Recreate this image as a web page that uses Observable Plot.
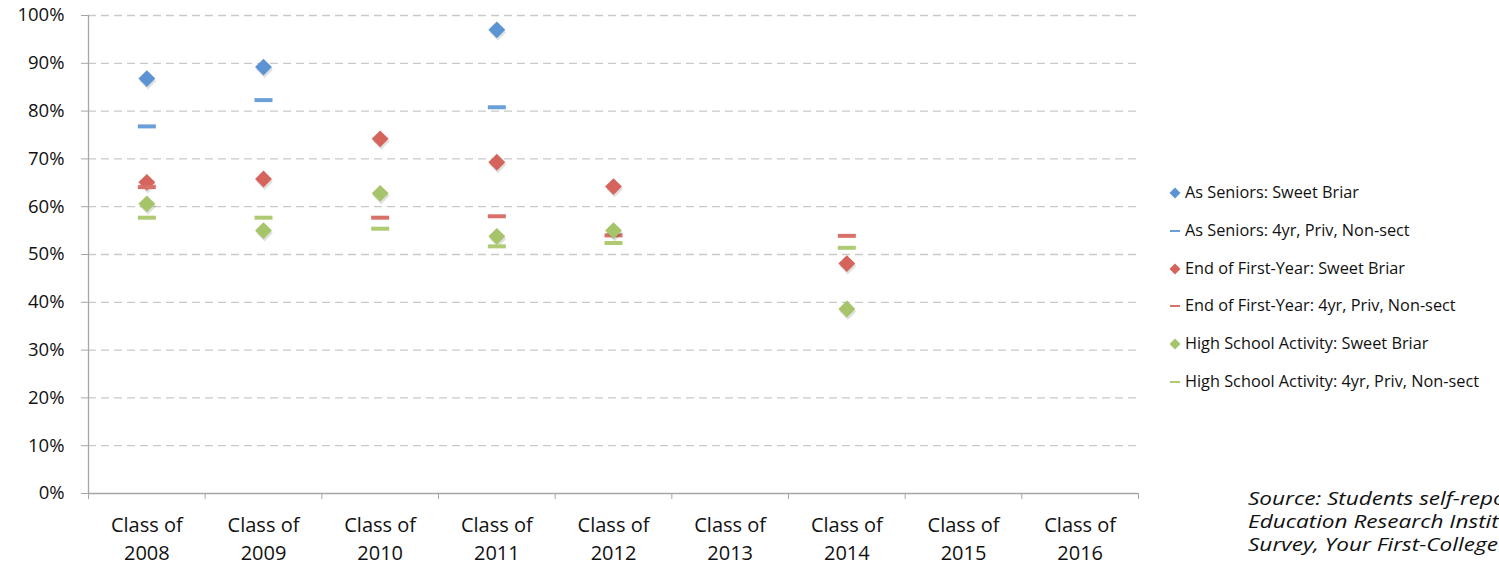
<!DOCTYPE html>
<html>
<head>
<meta charset="utf-8">
<script src="https://cdn.jsdelivr.net/npm/d3@7"></script>
<script src="https://cdn.jsdelivr.net/npm/@observablehq/plot@0.6"></script>
<style>
  html, body { margin: 0; padding: 0; background: #fff; }
  #wrap { position: relative; width: 1499px; height: 565px; overflow: hidden; font-family: "Open Sans", sans-serif; }
  #legend { position: absolute; left: 1169px; top: 181px; font-size: 16.3px; color: #111; }
  #legend .row { height: 37.8px; display: flex; align-items: flex-start; white-space: nowrap; }
  #legend svg { margin-right: 4px; margin-top: 6px; }
  #caption { position: absolute; left: 1248px; top: 486px; font-size: 18.5px; font-style: italic; color: #111; line-height: 23px; white-space: nowrap; transform: scaleX(1.22); transform-origin: 0 0; }
</style>
</head>
<body>
<div id="wrap">
  <div id="chart"></div>
  <div id="legend"></div>
  <div id="caption">Source: Students self-reported, Higher<br>Education Research Institute, Senior<br>Survey, Your First-College Year Survey</div>
</div>
<script>
const categories = ["Class of\n2008", "Class of\n2009", "Class of\n2010", "Class of\n2011", "Class of\n2012", "Class of\n2013", "Class of\n2014", "Class of\n2015", "Class of\n2016"];
const yTicks = [0, 0.1, 0.2, 0.3, 0.4, 0.5, 0.6, 0.7, 0.8, 0.9, 1.0];

const seniorsSB     = [0.868, 0.892, null,  0.970, null,  null, null,  null, null];
const seniorsPeer   = [0.768, 0.823, null,  0.808, null,  null, null,  null, null];
const firstYearSB   = [0.651, 0.658, 0.742, 0.693, 0.642, null, 0.481, null, null];
const firstYearPeer = [0.641, null,  0.577, 0.580, 0.540, null, 0.539, null, null];
const hsSB          = [0.606, 0.550, 0.628, 0.538, 0.550, null, 0.386, null, null];
const hsPeer        = [0.577, 0.577, 0.554, 0.517, 0.524, null, 0.514, null, null];

const seriesNames = [
  "As Seniors: Sweet Briar",
  "As Seniors: 4yr, Priv, Non-sect",
  "End of First-Year: Sweet Briar",
  "End of First-Year: 4yr, Priv, Non-sect",
  "High School Activity: Sweet Briar",
  "High School Activity: 4yr, Priv, Non-sect"
];
const seriesValues = [seniorsSB, seniorsPeer, firstYearSB, firstYearPeer, hsSB, hsPeer];
const seriesColors = ["#5b93d3", "#6a9fd8", "#d4645c", "#d8716a", "#a6c46a", "#aecb73"];
const isDiamond = [true, false, true, false, true, false];

const dash = {
  draw(ctx) {
    ctx.moveTo(-9, -2); ctx.lineTo(9, -2); ctx.lineTo(9, 2); ctx.lineTo(-9, 2); ctx.closePath();
  }
};

const marks = [];
marks.push(Plot.ruleY(yTicks.filter(d => d > 0), {stroke: "#c9c9c9", strokeWidth: 1.3, strokeDasharray: "8,5"}));
marks.push(Plot.ruleY([0], {stroke: "#a6a6a6", strokeWidth: 1.3}));
marks.push(Plot.ruleX([0], {stroke: "#a6a6a6", strokeWidth: 1.3}));
marks.push(Plot.axisY({ticks: yTicks, tickFormat: d3.format(".0%"), tickSize: 7, tickPadding: 17, stroke: "#a6a6a6", fontSize: 18.5, fill: "#111", label: null}));
marks.push(Plot.axisX({ticks: d3.range(0, categories.length + 1), tickFormat: () => "", tickSize: 6, stroke: "#a6a6a6", label: null}));
marks.push(Plot.text(categories, {x: (d, i) => i + 0.5, y: () => 0, text: d => d, dy: 19, lineAnchor: "top", lineHeight: 1.38, fontSize: 20, fill: "#111"}));

seriesValues.forEach((vals, s) => {
  const rows = vals.map((v, i) => ({x: i + 0.5, y: v})).filter(r => r.y != null);
  if (isDiamond[s]) {
    marks.push(Plot.dot(rows, {x: "x", y: "y", symbol: "diamond2", r: 7.6, fill: "#000", fillOpacity: 0.12, dx: 1, dy: 2.5, stroke: "none"}));
    marks.push(Plot.dot(rows, {x: "x", y: "y", symbol: "diamond2", r: 7.6, fill: seriesColors[s], stroke: "none"}));
  } else {
    marks.push(Plot.dot(rows, {x: "x", y: "y", symbol: dash, r: 5, fill: seriesColors[s], stroke: "none"}));
  }
});

const chart = Plot.plot({
  width: 1499,
  height: 565,
  marginLeft: 88,
  marginRight: 361,
  marginTop: 15,
  marginBottom: 72,
  style: {fontFamily: "Open Sans, sans-serif", background: "#fff", overflow: "visible"},
  x: {type: "linear", domain: [0, categories.length], axis: null},
  y: {domain: [0, 1], axis: null},
  marks
});
document.getElementById("chart").appendChild(chart);

const legend = d3.select("#legend");
seriesNames.forEach((name, s) => {
  const row = legend.append("div").attr("class", "row");
  const svg = row.append("svg").attr("width", 12).attr("height", 12);
  if (isDiamond[s]) {
    svg.append("path").attr("d", "M6,0.5 L11.5,6 L6,11.5 L0.5,6 Z").attr("fill", seriesColors[s]);
  } else {
    svg.append("rect").attr("x", 1).attr("y", 5).attr("width", 10).attr("height", 2).attr("fill", seriesColors[s]);
  }
  row.append("span").text(name);
});
</script>
</body>
</html>
